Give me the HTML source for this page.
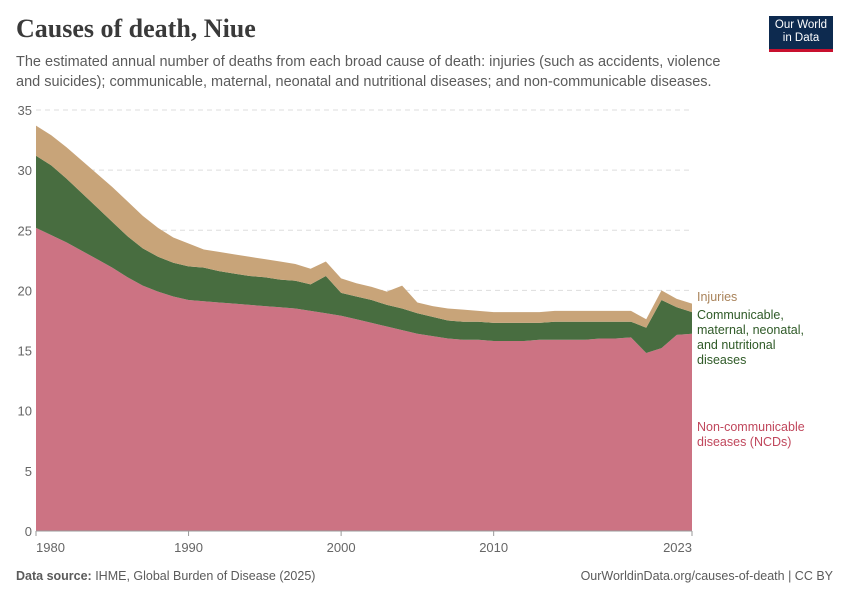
<!DOCTYPE html>
<html><head><meta charset="utf-8">
<style>
body{margin:0;background:#fff;font-family:"Liberation Sans",sans-serif;}
#wrap{position:relative;width:850px;height:600px;overflow:hidden;}
h1{position:absolute;left:16px;top:14px;margin:0;font-family:"Liberation Serif",serif;font-weight:bold;font-size:26px;color:#3a3a3a;}
.sub{position:absolute;left:16px;top:52px;width:720px;font-size:14.5px;line-height:20px;color:#5b5b5b;}
.logo{position:absolute;left:769px;top:16px;width:64px;height:36px;background:#0d2a4f;color:#fff;font-size:11.5px;line-height:13px;text-align:center;padding-top:3px;box-sizing:border-box;border-bottom:3px solid #c8102e;}
.foot{position:absolute;top:569px;font-size:12.5px;color:#5b5b5b;}
</style></head><body>
<div id="wrap">
<h1>Causes of death, Niue</h1>
<div class="sub">The estimated annual number of deaths from each broad cause of death: injuries (such as accidents, violence and suicides); communicable, maternal, neonatal and nutritional diseases; and non-communicable diseases.</div>
<div class="logo">Our World<br>in Data</div>
<svg id="chart" width="850" height="600" style="position:absolute;left:0;top:0"></svg>
<div class="foot" style="left:16px"><b>Data source:</b> IHME, Global Burden of Disease (2025)</div>
<div class="foot" style="right:17px">OurWorldinData.org/causes-of-death | CC BY</div>
</div>
<script>
const years=[];for(let y=1980;y<=2023;y++)years.push(y);
const ncd=[25.2,24.6,24.0,23.3,22.6,21.9,21.1,20.4,19.9,19.5,19.2,19.1,19.0,18.9,18.8,18.7,18.6,18.5,18.3,18.1,17.9,17.6,17.3,17.0,16.7,16.4,16.2,16.0,15.9,15.9,15.8,15.8,15.8,15.9,15.9,15.9,15.9,16.0,16.0,16.1,14.8,15.2,16.3,16.4];
const cmnn=[6.0,5.8,5.3,4.8,4.3,3.8,3.4,3.1,2.9,2.8,2.8,2.8,2.6,2.5,2.4,2.4,2.3,2.3,2.2,3.1,1.9,1.9,1.9,1.8,1.8,1.7,1.6,1.5,1.5,1.5,1.5,1.5,1.5,1.4,1.5,1.5,1.5,1.4,1.4,1.3,2.1,4.0,2.3,1.8];
const injuries=[2.5,2.5,2.6,2.7,2.8,2.9,2.9,2.7,2.4,2.1,1.9,1.5,1.6,1.6,1.6,1.5,1.5,1.4,1.3,1.2,1.2,1.1,1.1,1.1,1.9,0.9,0.9,1.0,1.0,0.9,0.9,0.9,0.9,0.9,0.9,0.9,0.9,0.9,0.9,0.9,0.7,0.8,0.7,0.7];
const yTicks=[0,5,10,15,20,25,30,35];
const xTicks=[1980,1990,2000,2010,2023];
const NS="http://www.w3.org/2000/svg",svg=document.getElementById('chart');
const X=y=>36+(y-1980)*(656/43), Y=v=>531-v*(421/35);
function mk(t,a,p){const e=document.createElementNS(NS,t);for(const k in a)e.setAttribute(k,a[k]);(p||svg).appendChild(e);return e;}
yTicks.forEach(t=>{
 if(t>0){const l=mk('line',{x1:36,x2:692,y1:Y(t),y2:Y(t),stroke:'#ddd','stroke-dasharray':'5,4'});
 
 }
 const tx=mk('text',{x:32,y:Y(t)+5,'text-anchor':'end','font-size':13,fill:'#666','font-family':'Liberation Sans'});tx.textContent=t;
 
 
});
const b0=ncd.map(()=>0),b1=ncd.slice(),b2=ncd.map((v,i)=>v+cmnn[i]),b3=b2.map((v,i)=>v+injuries[i]);
function area(lo,hi,col,name){
 let d='M'+years.map((y,i)=>X(y)+','+Y(hi[i])).join('L');
 for(let i=years.length-1;i>=0;i--)d+='L'+X(years[i])+','+Y(lo[i]);
 const p=mk('path',{d:d+'Z',fill:col});
 
 
}
area(b0,b1,'#cc7383','area-ncd');
area(b1,b2,'#486d40','area-cmnn');
area(b2,b3,'#c8a479','area-injuries');
const ax=mk('line',{x1:36,x2:692,y1:531,y2:531,stroke:'#999'});


xTicks.forEach(t=>{
 mk('line',{x1:X(t),x2:X(t),y1:531,y2:536,stroke:'#999'});
 const tx=mk('text',{x:t===1980?36:(t===2023?692:X(t)),y:552,'text-anchor':t===1980?'start':(t===2023?'end':'middle'),'font-size':13,fill:'#666','font-family':'Liberation Sans'});tx.textContent=t;
 
 
});
function lab(lines,y0,col,name){const t=mk('text',{x:697,y:y0,'font-size':12.5,fill:col,'font-family':'Liberation Sans'});
 lines.forEach((s,i)=>{const ts=mk('tspan',{x:697,dy:i?15:0},t);ts.textContent=s;});
 
 }
lab(['Injuries'],301,'#a9835a','legend-injuries');
lab(['Communicable,','maternal, neonatal,','and nutritional','diseases'],319,'#2f5a27','legend-cmnn');
lab(['Non-communicable','diseases (NCDs)'],431,'#c0475c','legend-ncd');
</script>
</body></html>
